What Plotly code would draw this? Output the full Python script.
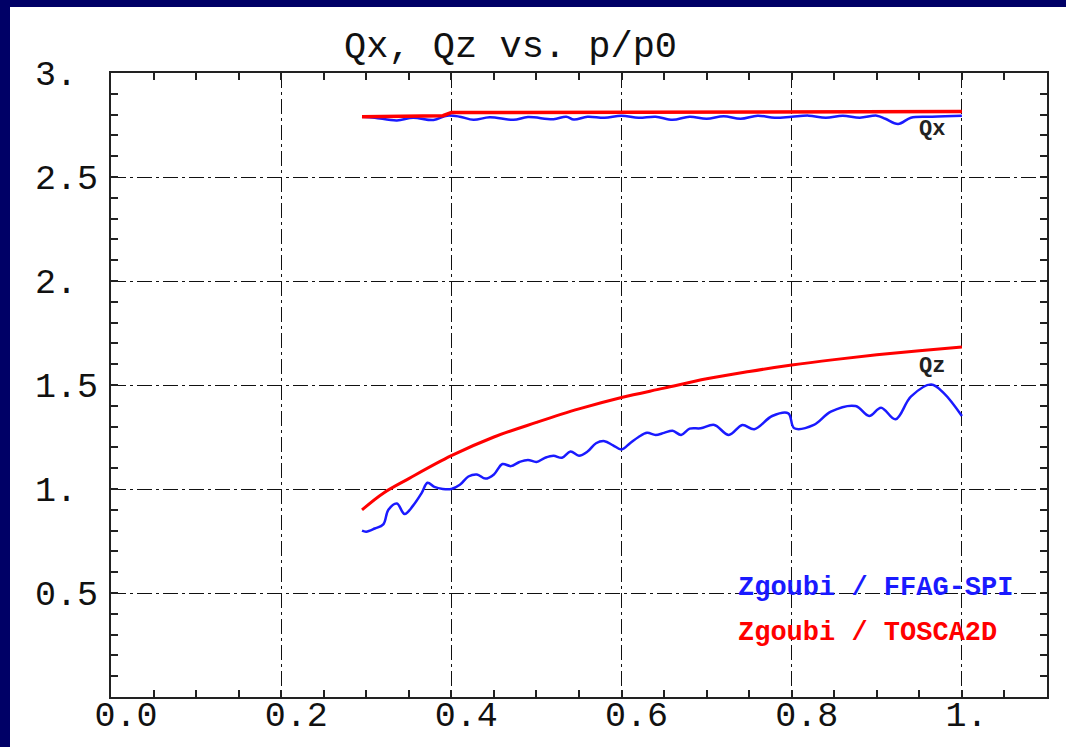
import plotly.graph_objects as go

# ---------------- data ----------------
# Qz, Zgoubi / FFAG-SPI (blue)
qz_spi_x = [0.295, 0.300, 0.310, 0.320, 0.326, 0.336, 0.345, 0.355, 0.365, 0.372,
            0.380, 0.390, 0.400, 0.410, 0.420, 0.430, 0.440, 0.450, 0.460, 0.470,
            0.480, 0.490, 0.500, 0.510, 0.520, 0.530, 0.540, 0.550, 0.560, 0.570,
            0.580, 0.590, 0.600, 0.610, 0.620, 0.630, 0.640, 0.650, 0.660, 0.670,
            0.680, 0.693, 0.709, 0.726, 0.742, 0.756, 0.777, 0.796, 0.803, 0.826,
            0.846, 0.875, 0.891, 0.905, 0.922, 0.940, 0.964, 0.979, 1.000]
qz_spi_y = [0.800, 0.795, 0.810, 0.830, 0.900, 0.930, 0.880, 0.920, 0.980, 1.030,
            1.010, 1.000, 1.000, 1.020, 1.060, 1.070, 1.050, 1.070, 1.120, 1.110,
            1.130, 1.140, 1.130, 1.150, 1.160, 1.150, 1.180, 1.160, 1.180, 1.220,
            1.230, 1.210, 1.190, 1.220, 1.250, 1.270, 1.260, 1.270, 1.280, 1.260,
            1.290, 1.292, 1.308, 1.260, 1.308, 1.287, 1.351, 1.364, 1.292, 1.308,
            1.372, 1.399, 1.351, 1.391, 1.335, 1.444, 1.503, 1.460, 1.351]

# Qz, Zgoubi / TOSCA2D (red)
qz_tosca_x = [0.295, 0.320, 0.350, 0.400, 0.450, 0.500, 0.550, 0.600, 0.650,
              0.700, 0.750, 0.800, 0.850, 0.900, 0.950, 1.000]
qz_tosca_y = [0.900, 0.980, 1.050, 1.160, 1.250, 1.320, 1.385, 1.440, 1.485,
              1.530, 1.565, 1.596, 1.622, 1.645, 1.665, 1.683]

# Qx, Zgoubi / FFAG-SPI (blue)
qx_spi_x = [0.295, 0.310, 0.336, 0.355, 0.379, 0.395, 0.410, 0.426, 0.445, 0.473,
            0.490, 0.520, 0.535, 0.544, 0.560, 0.580, 0.600, 0.620, 0.640, 0.660,
            0.680, 0.700, 0.720, 0.740, 0.760, 0.780, 0.800, 0.820, 0.840, 0.860,
            0.880, 0.900, 0.910, 0.925, 0.940, 0.960, 0.980, 1.000]
qx_spi_y = [2.790, 2.785, 2.772, 2.785, 2.774, 2.795, 2.790, 2.775, 2.787, 2.775,
            2.788, 2.778, 2.790, 2.776, 2.790, 2.785, 2.795, 2.785, 2.790, 2.775,
            2.790, 2.780, 2.792, 2.780, 2.795, 2.785, 2.790, 2.795, 2.785, 2.795,
            2.785, 2.795, 2.780, 2.755, 2.785, 2.790, 2.792, 2.795]

# Qx, Zgoubi / TOSCA2D (red)
qx_tosca_x = [0.295, 0.390, 0.400, 0.600, 0.800, 1.000]
qx_tosca_y = [2.790, 2.795, 2.810, 2.812, 2.815, 2.815]

x_tickvals = [0.0, 0.2, 0.4, 0.6, 0.8, 1.0]
x_ticktext = ["0.0", "0.2", "0.4", "0.6", "0.8", "1.\u00a0"]
y_tickvals = [0.5, 1.0, 1.5, 2.0, 2.5, 3.0]
y_ticktext = ["0.5", "1.\u00a0", "1.5", "2.\u00a0", "2.5", "3.\u00a0"]

title_text = "Qx, Qz vs. p/p0"
legend_spi = "Zgoubi / FFAG-SPI"
legend_tosca = "Zgoubi / TOSCA2D"

# ---------------- style ----------------
W, H = 1066, 747
ML, MR, MT, MB = 111, 19, 73, 50
PW, PH = W - ML - MR, H - MT - MB
NAVY = "#000066"
BLUE = "#1a1aff"
RED = "#ff0000"
MONO = "Liberation Mono, Courier New, monospace"
GRIDDASH = "15px,4px,3px,4px"

fig = go.Figure()
fig.add_trace(go.Scatter(x=qx_spi_x, y=qx_spi_y, mode="lines",
                         line=dict(color=BLUE, width=2.5), line_shape="spline"))
fig.add_trace(go.Scatter(x=qz_spi_x, y=qz_spi_y, mode="lines",
                         line=dict(color=BLUE, width=2.5), line_shape="spline"))
fig.add_trace(go.Scatter(x=qx_tosca_x, y=qx_tosca_y, mode="lines",
                         line=dict(color=RED, width=3.5)))
fig.add_trace(go.Scatter(x=qz_tosca_x, y=qz_tosca_y, mode="lines",
                         line=dict(color=RED, width=3), line_shape="spline"))

axis_common = dict(
    showline=True, linecolor="#222", linewidth=2, mirror="ticks",
    ticks="inside", ticklen=7, tickwidth=2, tickcolor="#222",
    showgrid=True, gridcolor="#111", gridwidth=1.3, griddash=GRIDDASH,
    zeroline=False, automargin=False,
    tickfont=dict(family=MONO, size=35, color="#111"),
)

fig.update_xaxes(range=[0, 1.1], tickmode="array", tickvals=x_tickvals,
                 ticktext=x_ticktext, ticklabelshift=15, ticklabelstandoff=-15,
                 minor=dict(tick0=0, dtick=0.05, ticks="inside", ticklen=7,
                            tickwidth=2, tickcolor="#222", showgrid=False),
                 **axis_common)
fig.update_yaxes(range=[0, 3], tickmode="array", tickvals=y_tickvals,
                 ticktext=y_ticktext, ticklabelstandoff=4,
                 minor=dict(tick0=0, dtick=0.1, ticks="inside", ticklen=7,
                            tickwidth=2, tickcolor="#222", showgrid=False),
                 **axis_common)

# navy slide border (top and left)
fig.add_shape(type="rect", xref="paper", yref="paper", layer="below",
              x0=-ML / PW, x1=(W - ML) / PW, y0=(PH + MT - 7) / PH, y1=(PH + MT) / PH,
              fillcolor=NAVY, line_width=0)
fig.add_shape(type="rect", xref="paper", yref="paper", layer="below",
              x0=-ML / PW, x1=(10 - ML) / PW, y0=-MB / PH, y1=(PH + MT) / PH,
              fillcolor=NAVY, line_width=0)

# title
fig.add_annotation(text=title_text, xref="paper", yref="paper",
                   x=(342 - ML) / PW, y=(697 - 47) / PH, xanchor="left",
                   yanchor="middle", showarrow=False,
                   font=dict(family=MONO, size=37, color="#111"))

# curve labels
fig.add_annotation(text="Qx", x=0.965, y=2.726, xref="x", yref="y",
                   showarrow=False, font=dict(family=MONO, size=22, color="#222",
                                              weight="bold"))
fig.add_annotation(text="Qz", x=0.965, y=1.591, xref="x", yref="y",
                   showarrow=False, font=dict(family=MONO, size=22, color="#222",
                                              weight="bold"))

# legend texts
fig.add_annotation(text=legend_spi, x=0.734, y=0.524, xref="x", yref="y",
                   xanchor="left", yanchor="middle", showarrow=False,
                   font=dict(family=MONO, size=27, color=BLUE, weight="bold"))
fig.add_annotation(text=legend_tosca, x=0.734, y=0.308, xref="x", yref="y",
                   xanchor="left", yanchor="middle", showarrow=False,
                   font=dict(family=MONO, size=27, color=RED, weight="bold"))

fig.update_layout(
    width=W, height=H, autosize=False,
    margin=dict(l=ML, r=MR, t=MT, b=MB, pad=0, autoexpand=False),
    paper_bgcolor="white", plot_bgcolor="white",
    showlegend=False,
)

fig.write_html("out.html", config={"displayModeBar": False},
               post_script="document.body.style.margin='0';"
                           "document.body.style.overflow='hidden';")
